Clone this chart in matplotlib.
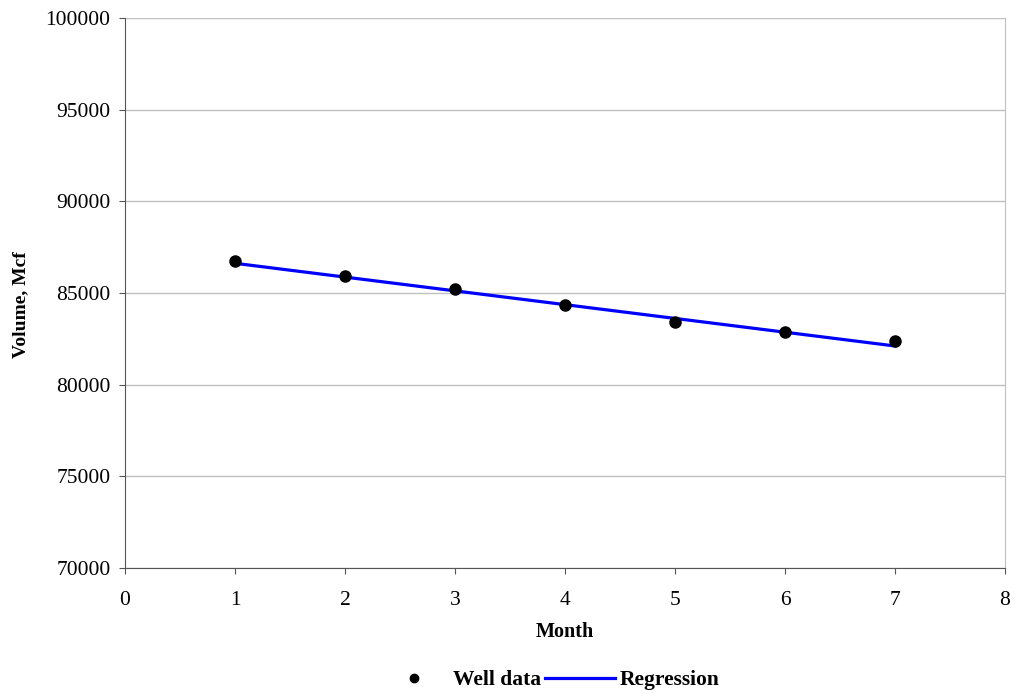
import numpy as np
import matplotlib.pyplot as plt

# Well production data
month = [1, 2, 3, 4, 5, 6, 7]
volume = [86760, 85940, 85220, 84330, 83400, 82860, 82400]

# Regression line endpoints
reg_month = [1, 7]
reg_volume = [86620, 82110]

plt.rcParams['font.family'] = ['Liberation Serif', 'DejaVu Serif']

fig = plt.figure(figsize=(10.15, 6.94), dpi=100)
ax = fig.add_axes([125 / 1015, 1 - 568 / 694, 880 / 1015, 550 / 694])

ax.plot(month, volume, 'o', color='black', markersize=8, label='Well data', zorder=3)
ax.plot(reg_month, reg_volume, '-', color='#0000ff', linewidth=2.3, label='Regression', zorder=2)

ax.set_xlim(0, 8)
ax.set_ylim(70000, 100000)
ax.set_xticks(range(0, 9))
ax.set_yticks(range(70000, 100001, 5000))
ax.yaxis.grid(True, color='#c0c0c0', linewidth=1)
ax.set_axisbelow(True)

ax.spines['top'].set_visible(False)
ax.spines['right'].set_color('#c0c0c0')
for side in ['left', 'bottom']:
    ax.spines[side].set_color('#555555')
ax.tick_params(axis='both', direction='out', length=4.5, color='#555555', labelsize=15.5)
ax.tick_params(axis='x', pad=12)
ax.tick_params(axis='y', pad=6)

ax.set_xlabel('Month', fontsize=14.5, fontweight='bold', labelpad=9)
ax.set_ylabel('Volume, Mcf', fontsize=14, fontweight='bold', labelpad=12, y=0.478)

fig.legend(loc='center', bbox_to_anchor=(549 / 1015, 1 - 680 / 694), ncol=2, frameon=False,
           prop={'weight': 'bold', 'size': 15.5}, handlelength=3.25, columnspacing=0.2,
           handletextpad=0.2, markerscale=0.75)

plt.savefig('out.png', dpi=100)
